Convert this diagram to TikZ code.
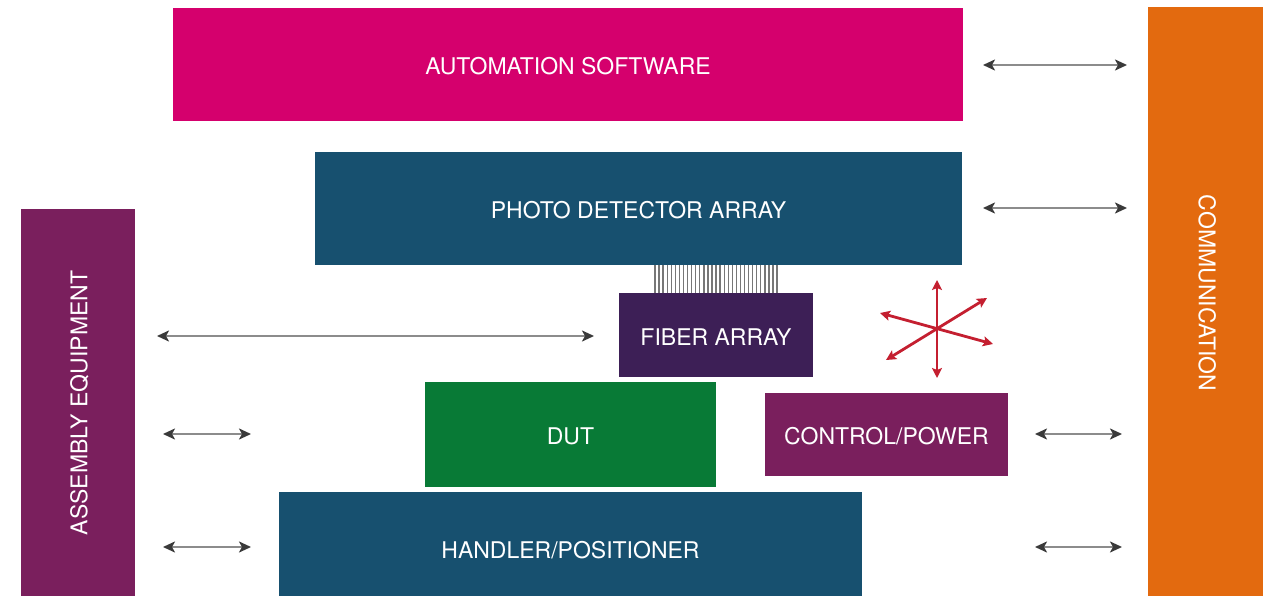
\documentclass[tikz,border=0pt]{standalone}
\usepackage{fontspec}
\setmainfont{TeX Gyre Heros}
\usetikzlibrary{arrows.meta}
\definecolor{cMag}{HTML}{D5006D}
\definecolor{cBlue}{HTML}{17506F}
\definecolor{cFiber}{HTML}{3D1F56}
\definecolor{cGreen}{HTML}{087A36}
\definecolor{cPurp}{HTML}{7A1F5D}
\definecolor{cOrange}{HTML}{E36A0F}
\definecolor{cRed}{HTML}{C41F30}
\definecolor{cLine}{HTML}{8C8C8C}
\definecolor{cFib}{HTML}{777777}
\definecolor{cHead}{HTML}{3A3A3A}
\tikzset{
  blk/.style={rectangle, inner sep=0pt, outer sep=0pt, text=white,
    font=\fontsize{23}{27}\selectfont, text height=20.5pt, text depth=0pt},
  dblarrow/.style={draw=cLine, line width=2.2pt,
    {Stealth[length=12pt,width=11pt,inset=3pt,color=cHead,fill=cHead]}-{Stealth[length=12pt,width=11pt,inset=3pt,color=cHead,fill=cHead]}},
  redarrow/.style={draw=cRed, line width=2.8pt,
    {Stealth[length=10pt,width=10pt,inset=2pt]}-{Stealth[length=10pt,width=10pt,inset=2pt]}},
  fiber/.style={draw=cFib, line width=1.3pt}
}
\begin{document}
\begin{tikzpicture}[x=1pt,y=-1pt]
\useasboundingbox (0,0) rectangle (1271,596);
% boxes
\node[blk, fill=cMag, minimum width=790pt, minimum height=113pt] (auto) at (568,64.5) {AUTOMATION SOFTWARE};
\node[blk, fill=cBlue, minimum width=647pt, minimum height=113pt] (pda) at (638.5,208.5) {PHOTO DETECTOR ARRAY};
\node[blk, fill=cFiber, minimum width=194pt, minimum height=84pt] (fib) at (716,335) {FIBER ARRAY};
\node[blk, fill=cGreen, minimum width=291pt, minimum height=105pt] (dut) at (570.5,434.5) {DUT};
\node[blk, fill=cPurp, minimum width=243pt, minimum height=83pt] (ctl) at (886.5,434.5) {CONTROL/POWER};
\node[blk, fill=cBlue, minimum width=583pt, minimum height=112pt] (hdl) at (570.5,548) {HANDLER/POSITIONER};
\node[blk, fill=cPurp, minimum width=114pt, minimum height=387pt] (asm) at (78,402.5) {};
\node[blk, rotate=90, text height=16.5pt] (asmtxt) at (79,403) {ASSEMBLY EQUIPMENT};
\node[blk, fill=cOrange, minimum width=115pt, minimum height=589pt] (com) at (1205.5,301.5) {};
\node[blk, rotate=-90, text height=16.5pt] (comtxt) at (1207,293) {COMMUNICATION};
% fibers
\foreach \i in {0,...,30}{
  \path (655+\i*4.07,265) coordinate (fa\i) (655+\i*4.07,293) coordinate (fb\i);
  \draw[fiber] (fa\i) -- (fb\i);
}
% arrows
\coordinate (a1l) at (983,65); \coordinate (a1r) at (1127,65);
\coordinate (a2l) at (983,208); \coordinate (a2r) at (1127,208);
\coordinate (a3l) at (157,336); \coordinate (a3r) at (594,336);
\coordinate (a4l) at (163,434); \coordinate (a4r) at (251,434);
\coordinate (a5l) at (163,547); \coordinate (a5r) at (251,547);
\coordinate (a6l) at (1035,434); \coordinate (a6r) at (1122,434);
\coordinate (a7l) at (1035,547); \coordinate (a7r) at (1122,547);
\foreach \n in {1,...,7}{ \draw[dblarrow] (a\n l) -- (a\n r); }
% red star
\coordinate (s1a) at (937,280); \coordinate (s1b) at (937,378);
\coordinate (s2a) at (880,313); \coordinate (s2b) at (993,344);
\coordinate (s3a) at (987,298); \coordinate (s3b) at (886,360);
\draw[redarrow] (s1a) -- (s1b);
\draw[redarrow] (s2a) -- (s2b);
\draw[redarrow] (s3a) -- (s3b);
\end{tikzpicture}
\end{document}
